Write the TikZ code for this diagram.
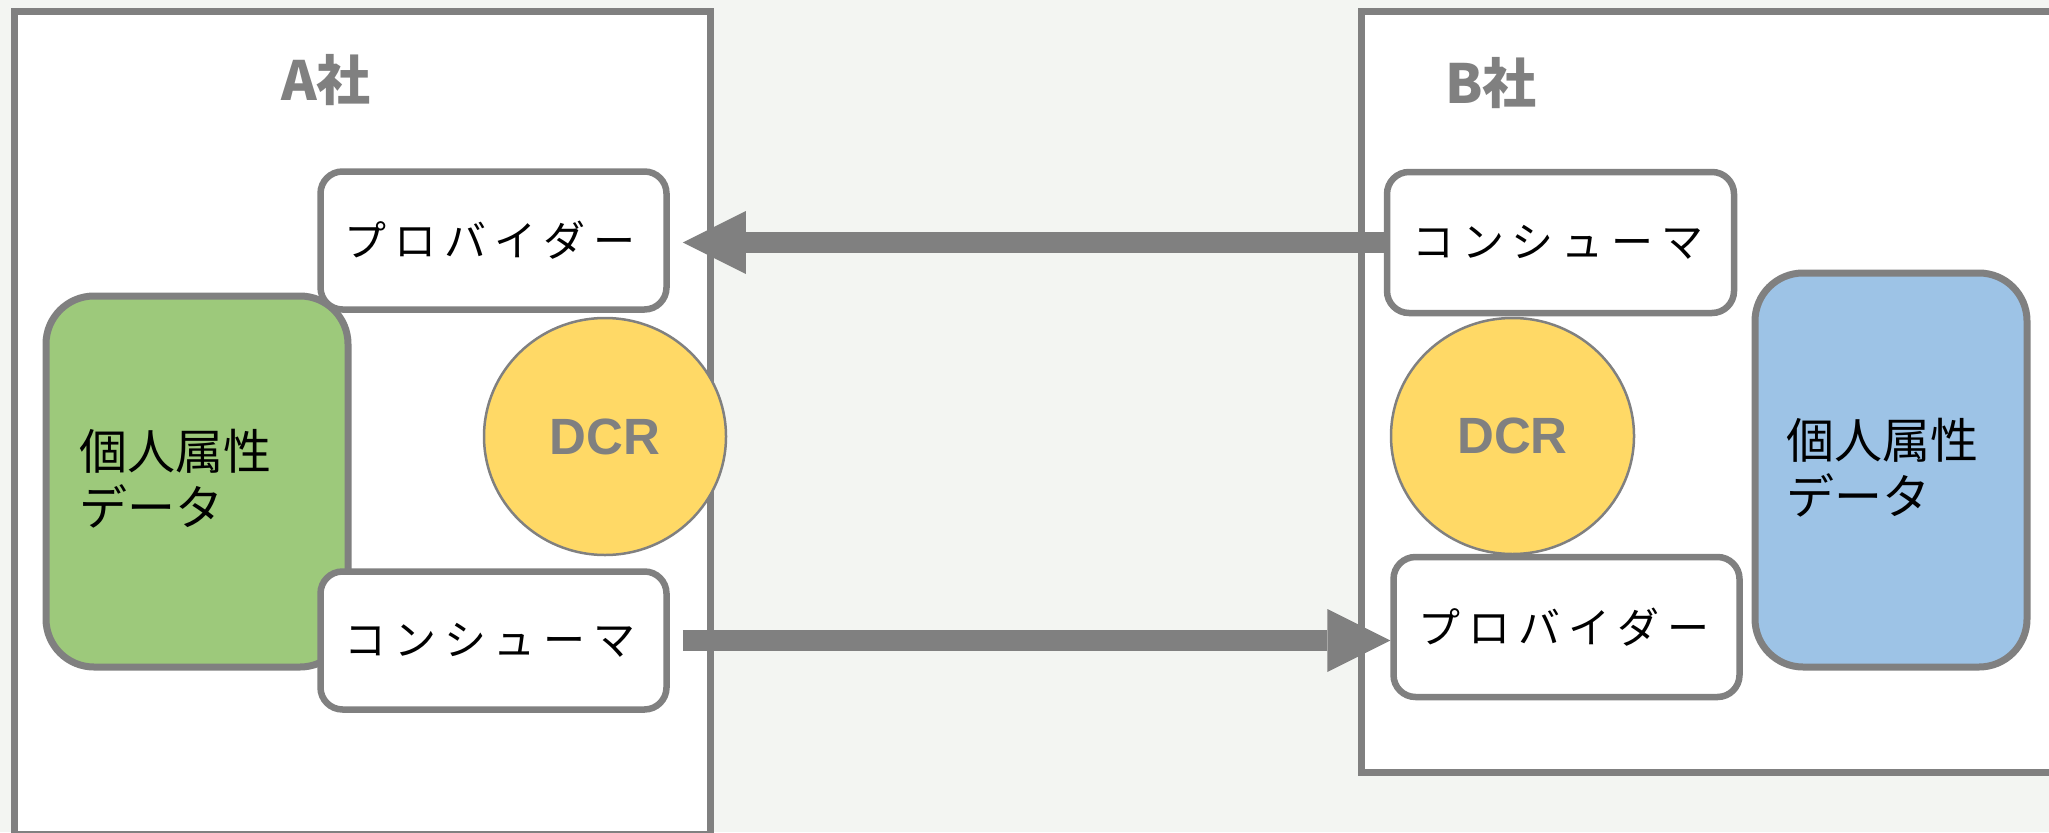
\documentclass[tikz,border=0pt]{standalone}
\usepackage{fontspec}
\setmainfont{Liberation Sans}
\newfontfamily\jp{Noto Sans CJK JP}
\newfontfamily\jpwide[LetterSpace=19]{Noto Sans CJK JP}
\usetikzlibrary{arrows.meta,shapes.geometric}
\definecolor{bg}{HTML}{F3F5F2}
\definecolor{edge}{HTML}{808080}
\definecolor{leaf}{HTML}{9DC97B}
\definecolor{sky}{HTML}{9DC3E6}
\definecolor{sun}{HTML}{FFD966}
\begin{document}
\begin{tikzpicture}[x=1pt,y=-1pt,
  company/.style={draw=edge, line width=7pt, fill=white},
  firmname/.style={text=edge, inner sep=0pt, font=\jp\bfseries\fontsize{54}{60}\selectfont},
  rolebox/.style={draw=edge, line width=6.5pt, fill=white, rounded corners=22pt,
    minimum width=346pt, minimum height=138pt, inner sep=0pt,
    font=\jpwide\fontsize{42}{48}\selectfont},
  databox/.style={draw=edge, line width=7pt, rounded corners=48pt, inner sep=0pt},
  datatext/.style={anchor=west, align=left, inner sep=0pt,
    font=\jp\fontsize{48}{56}\selectfont},
  dcr/.style={ellipse, draw=edge, line width=2.5pt, fill=sun,
    minimum width=242pt, minimum height=237pt, inner sep=0pt, text=edge,
    font=\bfseries\fontsize{51}{60}\selectfont},
  bigarrow/.style={draw=edge, line width=21pt,
    -{Triangle[length=63pt,width=63pt,line width=0pt]}}
]
\useasboundingbox (0,0) rectangle (2049,832);
\fill[bg] (0,0) rectangle (2049,832);

% company frames
\draw[company] (14,12) rectangle (710,834);
\draw[company] (1361.5,12) rectangle (2075,772);
\node[firmname] (atitle) at (326,80) {A社};
\node[firmname] (btitle) at (1491,83) {B社};

% personal attribute data stores
\node[databox, fill=leaf, minimum width=302pt, minimum height=371pt] (adata) at (197,481.5) {};
\node[datatext] (adatatext) at (79,479) {個人属性\\データ};
\node[databox, fill=sky, minimum width=272pt, minimum height=394pt] (bdata) at (1891,470) {};
\node[datatext] (bdatatext) at (1786,467.5) {個人属性\\データ};

% provider / consumer roles (letter-spaced text, nudged to sit centred)
\node[rolebox] (aprov) at (493.5,240.5) {\hspace*{-7pt}プロバイダー};
\node[rolebox] (acons) at (493.5,640.5) {\hspace*{-7pt}コンシューマ};
\node[rolebox, minimum width=347pt, minimum height=141pt] (bcons) at (1560.5,242.5) {\hspace*{-5pt}コンシューマ};
\node[rolebox, minimum height=140pt] (bprov) at (1566.5,627) {\hspace*{-5pt}プロバイダー};

% data clean rooms
\node[dcr] (adcr) at (605,436.5) {DCR};
\node[dcr, minimum width=243pt, minimum height=236pt] (bdcr) at (1512.5,436) {DCR};

% data flows between the companies
\coordinate (atip) at ([xshift=13pt]aprov.east);
\coordinate (astart) at ([xshift=13pt]acons.east);
\draw[bigarrow] (bcons.west) -- (bcons.west -| atip);
\draw[bigarrow] (astart) -- (astart -| bprov.west);
\end{tikzpicture}
\end{document}
